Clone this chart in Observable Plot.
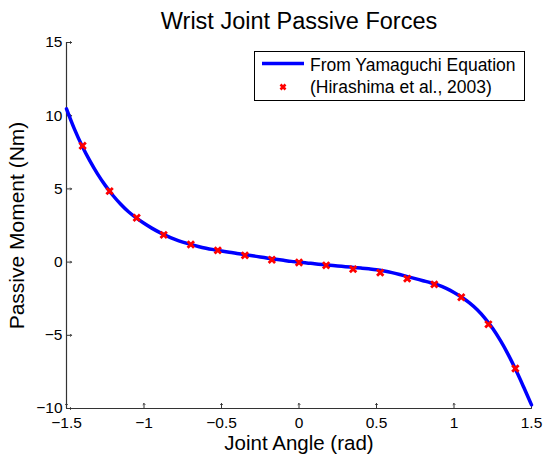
<!DOCTYPE html>
<html>
<head>
<meta charset="utf-8">
<script src="https://cdn.jsdelivr.net/npm/d3@7"></script>
<script src="https://cdn.jsdelivr.net/npm/@observablehq/plot@0.6"></script>
<style>
  html, body { margin: 0; padding: 0; background: #fff; }
  svg text { font-family: "Liberation Sans", Arial, Helvetica, sans-serif; }
</style>
</head>
<body>
<div id="chart"></div>
<script>
const title = "Wrist Joint Passive Forces";
const xLabel = "Joint Angle (rad)";
const yLabel = "Passive Moment (Nm)";
const legendLine = "From Yamaguchi Equation";
const legendPoints = "(Hirashima et al., 2003)";

const xDomain = [-1.5, 1.5];
const yDomain = [-10, 15];
const xTicks = [-1.5, -1, -0.5, 0, 0.5, 1, 1.5];
const yTicks = [-10, -5, 0, 5, 10, 15];

// Yamaguchi equation curve
const curveX = [-1.5, -1.45, -1.4, -1.35, -1.3, -1.25, -1.2, -1.15, -1.1, -1.05,
  -1.0, -0.95, -0.9, -0.85, -0.8, -0.75, -0.7, -0.65, -0.6, -0.55,
  -0.5, -0.45, -0.4, -0.35, -0.3, -0.25, -0.2, -0.15, -0.1, -0.05,
  0, 0.05, 0.1, 0.15, 0.2, 0.25, 0.3, 0.35, 0.4, 0.45,
  0.5, 0.55, 0.6, 0.65, 0.7, 0.75, 0.8, 0.85, 0.9, 0.95,
  1.0, 1.05, 1.1, 1.15, 1.2, 1.25, 1.3, 1.35, 1.4, 1.45, 1.5];
const curveY = [10.47, 9.12, 7.95, 6.93, 6.03, 5.24, 4.55, 3.95, 3.44, 3.02,
  2.65, 2.32, 2.03, 1.78, 1.56, 1.37, 1.21, 1.07, 0.95, 0.85,
  0.76, 0.67, 0.59, 0.51, 0.43, 0.35, 0.27, 0.19, 0.12, 0.05,
  0.0, -0.06, -0.11, -0.17, -0.22, -0.27, -0.31, -0.36, -0.41, -0.46,
  -0.52, -0.61, -0.72, -0.85, -0.99, -1.13, -1.27, -1.41, -1.58, -1.8,
  -2.07, -2.4, -2.79, -3.26, -3.84, -4.54, -5.37, -6.32, -7.39, -8.55, -9.75];

// Hirashima et al., 2003 measurements
const pointX = [-1.396, -1.222, -1.047, -0.873, -0.698, -0.524, -0.349, -0.175, 0,
  0.175, 0.349, 0.524, 0.698, 0.873, 1.047, 1.222, 1.396];
const pointY = [7.95, 4.85, 3.03, 1.86, 1.2, 0.8, 0.46, 0.16, -0.03,
  -0.22, -0.48, -0.72, -1.13, -1.52, -2.4, -4.25, -7.27];

const curve = curveX.map((x, i) => ({x, y: curveY[i]}));
const points = pointX.map((x, i) => ({x, y: pointY[i]}));

const axisColor = "#333";
const blue = "#0000ff";
const red = "#ff0000";
const fmt = d3.format("");

const plot = Plot.plot({
  width: 543,
  height: 455,
  marginLeft: 66,
  marginRight: 12,
  marginTop: 42,
  marginBottom: 47,
  style: {fontFamily: "'Liberation Sans', Arial, Helvetica, sans-serif", background: "#fff", color: "#000"},
  x: {domain: xDomain},
  y: {domain: yDomain},
  marks: [
    Plot.axisX({ticks: xTicks, tickSize: 0, tickPadding: 8, tickFormat: fmt, fontSize: 15.5, label: null, fill: "#000"}),
    Plot.axisY({ticks: yTicks, tickSize: 0, tickPadding: 4, tickFormat: fmt, fontSize: 15.5, label: null, fill: "#000"}),
    Plot.vector(xTicks, {x: d => d, y: yDomain[0], length: 5, rotate: 0, anchor: "start", stroke: axisColor, strokeWidth: 1}),
    Plot.vector(yTicks, {x: xDomain[0], y: d => d, length: 5, rotate: 90, anchor: "start", stroke: axisColor, strokeWidth: 1}),
    Plot.ruleX([xDomain[0]], {stroke: axisColor, strokeWidth: 1.2}),
    Plot.ruleY([yDomain[0]], {stroke: axisColor, strokeWidth: 1.2}),
    Plot.line(curve, {x: "x", y: "y", stroke: blue, strokeWidth: 3.5, curve: "catmull-rom"}),
    Plot.dot(points, {x: "x", y: "y", symbol: "times", r: 3, stroke: red, strokeWidth: 2.8}),
    Plot.text([title], {frameAnchor: "top", dy: -13.5, lineAnchor: "bottom", textAnchor: "middle", fontSize: 23.5, fill: "#000", text: d => d}),
    Plot.text([xLabel], {frameAnchor: "bottom", dy: 41.5, lineAnchor: "bottom", textAnchor: "middle", fontSize: 20.5, fill: "#000", text: d => d}),
    Plot.text([yLabel], {frameAnchor: "left", dx: -43, rotate: -90, lineAnchor: "bottom", textAnchor: "middle", fontSize: 21, fill: "#000", text: d => d})
  ]
});

document.getElementById("chart").appendChild(plot);

// Legend box (top right, inside the axes)
const svg = d3.select(plot);
const lg = svg.append("g").attr("class", "legend").attr("text-anchor", "start");
lg.append("rect").attr("x", 254.5).attr("y", 51.5).attr("width", 270).attr("height", 49)
  .attr("fill", "#fff").attr("stroke", "#000").attr("stroke-width", 1);
lg.append("line").attr("x1", 262).attr("x2", 304).attr("y1", 63.5).attr("y2", 63.5)
  .attr("stroke", blue).attr("stroke-width", 3.5);
lg.append("path").attr("d", d3.symbol(d3.symbolTimes, 18)())
  .attr("transform", "translate(283,87)").attr("fill", "none").attr("stroke", red).attr("stroke-width", 2.6);
lg.append("text").attr("x", 310).attr("y", 70.5).attr("font-size", 17.5).attr("fill", "#000")
  .attr("text-anchor", "start").text(legendLine);
lg.append("text").attr("x", 310).attr("y", 93.3).attr("font-size", 17.5).attr("fill", "#000")
  .attr("text-anchor", "start").text(legendPoints);
</script>
</body>
</html>
